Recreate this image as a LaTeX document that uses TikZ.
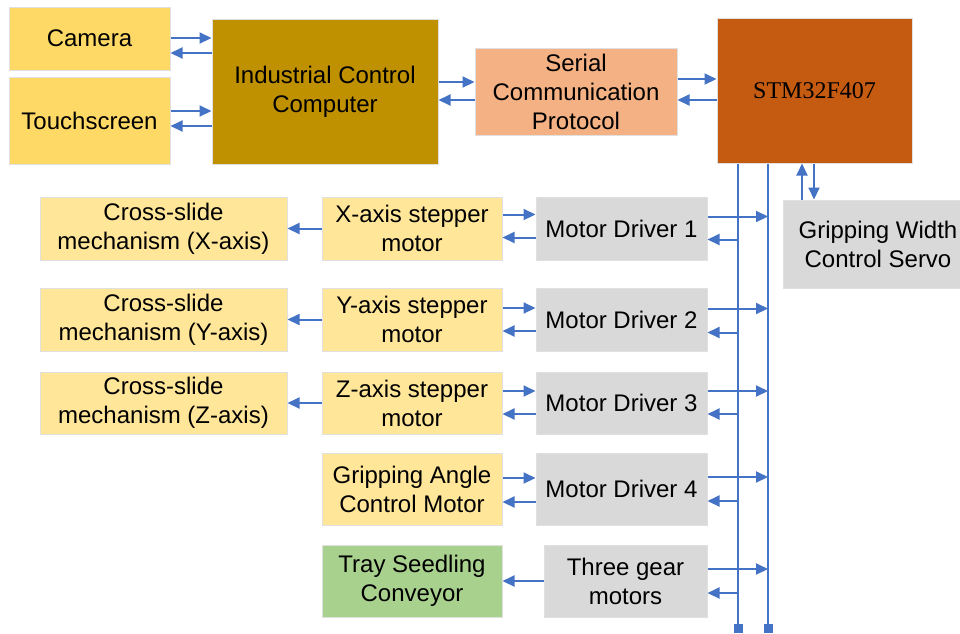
\documentclass[tikz,border=0pt]{standalone}
\usepackage{fontspec}
\setmainfont{Liberation Sans}
\newfontfamily\serifbox{Liberation Serif}
\usetikzlibrary{arrows.meta}

\definecolor{camfill}{HTML}{FFD966}
\definecolor{iccfill}{HTML}{BF9000}
\definecolor{serfill}{HTML}{F4B183}
\definecolor{stmfill}{HTML}{C55A11}
\definecolor{lightyel}{HTML}{FFE699}
\definecolor{grayfill}{HTML}{D9D9D9}
\definecolor{greenfill}{HTML}{A9D18E}
\definecolor{busblue}{HTML}{4472C4}

\tikzset{
  box/.style={rectangle, draw=black!12, line width=1pt, inner sep=0pt,
    align=center, font=\fontsize{24}{29}\selectfont},
  arr/.style={draw=busblue, line width=2pt, -{Triangle[length=12pt,width=11pt]}},
  bus/.style={draw=busblue, line width=2pt},
}

\begin{document}
\begin{tikzpicture}[x=1pt,y=-1pt]
\useasboundingbox (0,0) rectangle (960,633);

% top row
\node[box, fill=camfill, minimum width=161, minimum height=63] (cam) at (89.5,38.5) {Camera};
\node[box, fill=camfill, minimum width=161, minimum height=87] (touch) at (89.5,120.5) {Touchscreen};
\node[box, fill=iccfill, minimum width=226, minimum height=145] (icc) at (325,91.5) {Industrial Control\\Computer};
\node[box, fill=serfill, minimum width=202, minimum height=87] (ser) at (576,91.5) {Serial\\Communication\\Protocol};
\node[box, fill=stmfill, minimum width=195, minimum height=145, font=\fontsize{24}{29}\serifbox] (stm) at (814.5,90.5) {STM32F407};
\node[box, fill=grayfill, minimum width=190, minimum height=88] (servo) at (878,244) {Gripping Width\\Control Servo};

% actuator rows
\node[box, fill=lightyel, minimum width=247, minimum height=63] (cs1) at (163.5,228.5) {Cross-slide\\mechanism (X-axis)};
\node[box, fill=lightyel, minimum width=180, minimum height=63] (st1) at (412,228.5) {X-axis stepper\\motor};
\node[box, fill=grayfill, minimum width=171, minimum height=63] (md1) at (621.5,228.5) {Motor Driver 1};

\node[box, fill=lightyel, minimum width=247, minimum height=63] (cs2) at (163.5,319.5) {Cross-slide\\mechanism (Y-axis)};
\node[box, fill=lightyel, minimum width=180, minimum height=63] (st2) at (412,319.5) {Y-axis stepper\\motor};
\node[box, fill=grayfill, minimum width=171, minimum height=63] (md2) at (621.5,319.5) {Motor Driver 2};

\node[box, fill=lightyel, minimum width=247, minimum height=62] (cs3) at (163.5,403) {Cross-slide\\mechanism (Z-axis)};
\node[box, fill=lightyel, minimum width=180, minimum height=62] (st3) at (412,403) {Z-axis stepper\\motor};
\node[box, fill=grayfill, minimum width=171, minimum height=62] (md3) at (621.5,403) {Motor Driver 3};

\node[box, fill=lightyel, minimum width=180, minimum height=72] (st4) at (412,489) {Gripping Angle\\Control Motor};
\node[box, fill=grayfill, minimum width=171, minimum height=72] (md4) at (621.5,489) {Motor Driver 4};

\node[box, fill=greenfill, minimum width=180, minimum height=72] (tray) at (412,581) {Tray Seedling\\Conveyor};
\node[box, fill=grayfill, minimum width=163, minimum height=72] (md5) at (625.5,581) {Three gear\\motors};

% links of the upper row
\path ([yshift=0.5pt]cam.east) coordinate (c1) ([yshift=-14.5pt]cam.east) coordinate (c2);
\draw[arr] (c1) -- (c1 -| icc.west);
\draw[arr] (c2 -| icc.west) -- (c2);
\path ([yshift=9.5pt]touch.east) coordinate (t1) ([yshift=-5.5pt]touch.east) coordinate (t2);
\draw[arr] (t1) -- (t1 -| icc.west);
\draw[arr] (t2 -| icc.west) -- (t2);
\path ([yshift=9.5pt]icc.east) coordinate (p1) ([yshift=-8.5pt]icc.east) coordinate (p2);
\draw[arr] (p1) -- (p1 -| ser.west);
\draw[arr] (p2 -| ser.west) -- (p2);
\path ([yshift=12.5pt]ser.east) coordinate (q1) ([yshift=-8.5pt]ser.east) coordinate (q2);
\draw[arr] (q1) -- (q1 -| stm.west);
\draw[arr] (q2 -| stm.west) -- (q2);

% servo link
\path ([xshift=-76pt]servo.north) coordinate (sv1) ([xshift=-64pt]servo.north) coordinate (sv2);
\draw[arr] (sv1) -- (sv1 |- stm.south);
\draw[arr] (sv2 |- stm.south) -- (sv2);

% bus lines
\coordinate (bus1) at (738,628);
\coordinate (bus2) at (768,628);
\draw[bus] (bus1 |- stm.south) -- (bus1);
\draw[bus] (bus2 |- stm.south) -- (bus2);
\fill[busblue] (bus1) ++(-4.5,-4.5) rectangle ++(9,9);
\fill[busblue] (bus2) ++(-4.5,-4.5) rectangle ++(9,9);

% drivers to and from the bus
\foreach \r/\a/\b in {1/12/-11, 2/11/-13, 3/12/-11, 4/12/-12, 5/12/-12}{
  \path ([yshift=\a pt]md\r.east) coordinate (o\r) ([yshift=\b pt]md\r.east) coordinate (i\r);
  \draw[arr] (o\r) -- (o\r -| bus2);
  \draw[arr] (i\r -| bus1) -- (i\r);
}

% steppers and drivers
\foreach \r/\a/\b in {1/14/-9, 2/11.5/-11.5, 3/12/-11, 4/11/-13}{
  \path ([yshift=\a pt]st\r.east) coordinate (s\r) ([yshift=\b pt]st\r.east) coordinate (d\r);
  \draw[arr] (s\r) -- (s\r -| md\r.west);
  \draw[arr] (d\r -| md\r.west) -- (d\r);
}
\foreach \r in {1,...,3}{
  \draw[arr] (st\r.west) -- (cs\r.east);
}
\draw[arr] (md5.west) -- (tray.east);
\end{tikzpicture}
\end{document}
